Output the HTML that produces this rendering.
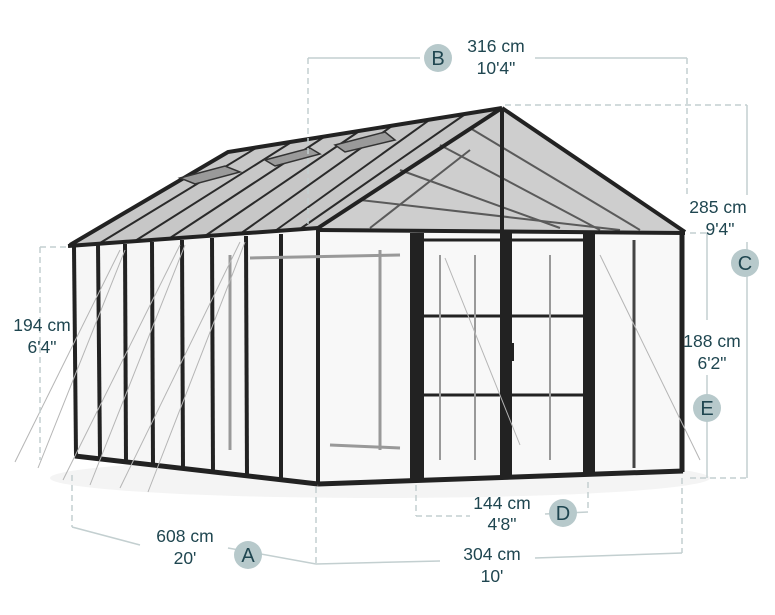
<!DOCTYPE html>
<html><head><style>
html,body{margin:0;padding:0;background:#fff;}
svg{display:block}
text{font-family:"Liberation Sans",sans-serif;fill:#1f4650;font-size:17.5px;text-anchor:middle}
.c{fill:#b7c9cb}
.ct{font-size:20px}
</style></head><body>
<svg width="775" height="615" viewBox="0 0 775 615">
<ellipse cx="380" cy="478" rx="330" ry="20" fill="#f4f4f4"/>
<polygon points="70,245 228,152 502,108 318,228" fill="#b4b4b4" opacity="0.75"/>
<polygon points="318,228 502,108 685,232" fill="#c2c2c2" opacity="0.8"/>
<polygon points="72,247 318,230 318,483 75,455" fill="#f6f6f6"/>
<polygon points="318,230 683,232 683,470 318,483" fill="#f8f8f8"/>
<g stroke="#2a2a2a" stroke-width="2">
<line x1="100" y1="243" x2="256" y2="148"/><line x1="135" y1="241" x2="290" y2="143"/>
<line x1="170" y1="238" x2="324" y2="137"/><line x1="205" y1="236" x2="358" y2="132"/>
<line x1="240" y1="234" x2="392" y2="126"/><line x1="275" y1="231" x2="428" y2="121"/>
<line x1="300" y1="229" x2="464" y2="115"/>
</g>
<g stroke="#5a5a5a" stroke-width="2">
<line x1="370" y1="228" x2="470" y2="150"/>
<line x1="360" y1="200" x2="620" y2="230"/><line x1="400" y1="170" x2="560" y2="228"/>
<line x1="440" y1="145" x2="600" y2="230"/><line x1="470" y1="128" x2="640" y2="230"/>
</g>
<g stroke="#222" stroke-width="4" fill="none">
<polyline points="70,245 228,152 502,108"/>
<line x1="318" y1="228" x2="502" y2="108"/>
<line x1="502" y1="108" x2="685" y2="232"/>
<line x1="68" y1="246" x2="318" y2="228"/>
<line x1="318" y1="230" x2="685" y2="233"/>
<line x1="502" y1="110" x2="502" y2="232"/>
</g>
<g fill="#9a9a9a" stroke="#333" stroke-width="1.5">
<polygon points="180,178 225,166 240,172 195,184"/>
<polygon points="265,160 310,148 320,154 275,166"/>
<polygon points="335,145 385,132 395,140 345,152"/>
</g>
<g stroke="#222" stroke-width="4">
<line x1="74" y1="247" x2="76" y2="456"/>
<line x1="98" y1="245" x2="100" y2="458"/><line x1="125" y1="244" x2="126" y2="462"/>
<line x1="152" y1="242" x2="153" y2="465"/><line x1="182" y1="240" x2="183" y2="468"/>
<line x1="212" y1="238" x2="213" y2="472"/><line x1="246" y1="236" x2="247" y2="476"/>
<line x1="281" y1="234" x2="281" y2="479"/><line x1="318" y1="230" x2="318" y2="484"/>
</g>
<g stroke="#999" stroke-width="3">
<line x1="230" y1="255" x2="230" y2="450"/><line x1="380" y1="250" x2="380" y2="450"/>
<line x1="250" y1="258" x2="400" y2="255"/><line x1="330" y1="445" x2="400" y2="448"/>
</g>
<g stroke="#222" fill="none">
<line x1="75" y1="456" x2="318" y2="484" stroke-width="5"/>
<line x1="318" y1="484" x2="683" y2="471" stroke-width="5"/>
<line x1="417" y1="233" x2="417" y2="481" stroke-width="14"/>
<line x1="589" y1="233" x2="589" y2="475" stroke-width="12"/>
<line x1="506" y1="233" x2="506" y2="478" stroke-width="12"/>
<line x1="682" y1="232" x2="682" y2="472" stroke-width="5"/>
<line x1="634" y1="240" x2="634" y2="468" stroke-width="3" stroke="#444"/>
<line x1="424" y1="316" x2="500" y2="316" stroke-width="3"/>
<line x1="512" y1="316" x2="583" y2="316" stroke-width="3"/>
<line x1="424" y1="395" x2="500" y2="395" stroke-width="3"/>
<line x1="512" y1="395" x2="583" y2="395" stroke-width="3"/>
<line x1="424" y1="240" x2="583" y2="240" stroke-width="3"/>
</g>
<g stroke="#999" stroke-width="2"><line x1="440" y1="255" x2="440" y2="460"/><line x1="475" y1="255" x2="475" y2="460"/><line x1="550" y1="255" x2="550" y2="460"/></g>
<rect x="510" y="343" width="4" height="18" fill="#222"/>
<g stroke="#b5b5b5" stroke-width="1">
<line x1="120" y1="250" x2="15" y2="462"/><line x1="125" y1="250" x2="38" y2="468"/>
<line x1="180" y1="245" x2="63" y2="480"/><line x1="185" y1="245" x2="90" y2="485"/>
<line x1="240" y1="242" x2="120" y2="488"/><line x1="245" y1="242" x2="148" y2="492"/>
<line x1="600" y1="255" x2="700" y2="460"/><line x1="445" y1="258" x2="520" y2="445"/>
</g>
<g stroke="#c3cfd0" stroke-width="1.5" fill="none">
<g stroke-dasharray="6,4">
<line x1="308" y1="58" x2="308" y2="228"/><line x1="687" y1="58" x2="687" y2="195"/>
<line x1="505" y1="105" x2="747" y2="105"/>
<line x1="40" y1="247" x2="68" y2="247"/><line x1="40" y1="247" x2="40" y2="460"/>
<line x1="72" y1="475" x2="72" y2="527"/><line x1="316" y1="487" x2="316" y2="564"/>
<line x1="682" y1="478" x2="682" y2="553"/>
<line x1="416" y1="485" x2="416" y2="516"/><line x1="588" y1="482" x2="588" y2="512"/>
<line x1="416" y1="516" x2="470" y2="516"/><line x1="690" y1="233" x2="707" y2="233"/>
<line x1="690" y1="478" x2="747" y2="478"/>
</g>
<line x1="308" y1="58" x2="420" y2="58"/><line x1="535" y1="58" x2="687" y2="58"/>
<line x1="747" y1="105" x2="747" y2="195"/><line x1="747" y1="242" x2="747" y2="478"/>
<line x1="707" y1="233" x2="707" y2="320"/><line x1="707" y1="375" x2="707" y2="478"/>
<polyline points="72,527 140,545"/><line x1="228" y1="548" x2="316" y2="564"/>
<line x1="316" y1="564" x2="440" y2="561"/><line x1="535" y1="558" x2="682" y2="553"/>
<line x1="545" y1="514" x2="588" y2="512"/>
</g>
<circle class="c" cx="438" cy="58" r="14"/><text class="ct" x="438" y="65">B</text>
<text x="496" y="52">316 cm</text><text x="496" y="74">10'4"</text>
<circle class="c" cx="745" cy="263" r="14"/><text class="ct" x="745" y="270">C</text>
<text x="718" y="213">285 cm</text><text x="720" y="235">9'4"</text>
<circle class="c" cx="707" cy="408" r="14"/><text class="ct" x="707" y="415">E</text>
<text x="712" y="347">188 cm</text><text x="712" y="369">6'2"</text>
<text x="42" y="331">194 cm</text><text x="42" y="353">6'4"</text>
<circle class="c" cx="248" cy="555" r="14"/><text class="ct" x="248" y="562">A</text>
<text x="185" y="542">608 cm</text><text x="185" y="564">20'</text>
<text x="492" y="560">304 cm</text><text x="492" y="582">10'</text>
<circle class="c" cx="563" cy="513" r="14"/><text class="ct" x="563" y="520">D</text>
<text x="502" y="509">144 cm</text><text x="502" y="530">4'8"</text>
</svg>
</body></html>
